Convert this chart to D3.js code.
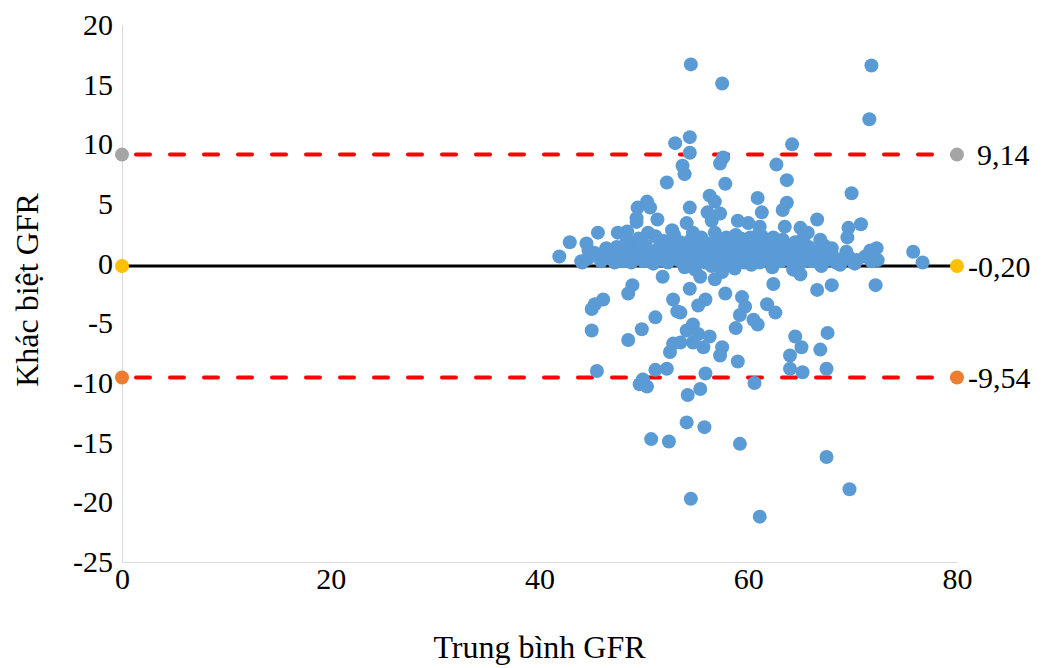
<!DOCTYPE html>
<html>
<head>
<meta charset="utf-8">
<script src="https://cdn.jsdelivr.net/npm/d3@7"></script>
<style>
  body { margin: 0; background: #fff; }
  svg text { font-family: "Liberation Serif", "Times New Roman", serif; fill: #000; }
</style>
</head>
<body>
<svg id="chart" width="1050" height="668"></svg>
<script>
// mean GFR vs. difference, one pair per patient
var outerPoints = [
  [54.5, 16.7], [57.5, 15.1], [71.8, 16.6], [71.6, 12.1], [54.4, 10.6], [53.0, 10.1],
  [64.2, 10.0], [54.4, 9.3], [57.6, 8.9], [57.3, 8.4], [62.7, 8.3], [53.7, 8.2],
  [53.9, 7.5], [52.2, 6.8], [57.8, 6.7], [63.7, 7.0], [69.9, 5.9], [56.3, 5.7],
  [56.8, 5.2], [60.9, 5.5], [54.4, 4.7], [63.7, 5.1], [63.3, 4.5], [56.1, 4.3],
  [57.3, 4.2], [61.3, 4.3], [49.4, 4.7], [50.3, 5.2], [50.6, 4.7], [49.3, 3.8],
  [51.3, 3.7], [59.0, 3.6], [56.5, 3.6], [66.6, 3.7], [60.0, 3.4], [54.1, 3.4],
  [63.5, 3.1], [65.0, 3.0], [61.1, 3.1], [70.8, 3.3], [69.6, 3.0], [45.6, 2.6],
  [48.4, 2.7], [50.4, 2.6], [52.7, 2.8], [56.8, 2.6], [54.7, 2.6], [57.9, 2.2],
  [60.2, 2.2], [62.4, 2.2], [65.7, 2.6], [58.9, 2.0], [69.5, 2.2], [42.9, 1.8],
  [44.5, 1.7], [47.4, 1.4], [68.0, 1.3], [71.7, 1.1], [72.3, 1.3], [75.8, 1.0],
  [72.4, 0.3], [76.7, 0.1], [41.9, 0.6], [67.5, 0.6], [69.7, 0.5], [70.4, 0.3],
  [66.9, 2.0], [44.1, 0.1], [44.7, 1.1], [47.5, 2.6], [48.4, 1.9], [49.3, 3.5]
];

var lowerPoints = [
  [51.8, -1.1], [48.9, -1.8], [48.5, -2.5], [46.1, -3.0], [45.3, -3.4], [45.0, -3.8],
  [52.8, -3.0], [53.2, -4.0], [51.1, -4.5], [49.8, -5.5], [45.0, -5.6], [48.5, -6.4],
  [52.8, -6.7], [52.5, -7.4], [45.5, -9.0], [52.2, -8.8], [51.1, -8.9], [49.9, -9.7],
  [49.6, -10.1], [50.3, -10.3], [55.4, -1.1], [56.8, -1.3], [54.4, -2.1], [57.5, -0.7],
  [62.4, -1.7], [65.0, -0.9], [66.6, -2.2], [57.8, -2.5], [59.4, -2.8], [55.9, -3.0],
  [55.2, -3.5], [59.7, -3.6], [61.8, -3.4], [62.6, -4.1], [53.5, -4.1], [59.2, -4.3],
  [60.5, -4.7], [60.9, -5.1], [58.8, -5.4], [54.7, -5.1], [54.1, -5.6], [55.2, -5.9],
  [56.3, -6.1], [54.7, -6.6], [53.5, -6.6], [55.7, -7.0], [57.5, -7.0], [57.3, -7.7],
  [64.5, -6.1], [65.1, -7.0], [64.0, -7.7], [66.9, -7.2], [59.0, -8.2], [64.0, -8.8],
  [65.2, -9.1], [55.9, -9.2], [60.6, -10.0], [55.4, -10.5], [54.2, -11.0], [54.1, -13.3],
  [55.8, -13.7], [50.7, -14.7], [52.4, -14.9], [59.2, -15.1], [67.5, -16.2], [54.5, -19.7],
  [61.1, -21.2], [69.7, -18.9], [68.0, -1.8], [72.2, -1.8], [67.6, -5.8], [67.5, -8.8],
  [68.8, -0.1], [70.2, 0.0]
];

var bandPoints = [
  [44.6, 0.4], [45.3, 0.9], [45.9, 0.2], [46.4, 1.3], [46.8, 0.5], [47.2, 0.1],
  [47.6, 0.9], [47.9, 0.3], [48.2, 1.6], [48.5, 0.6], [48.8, 0.1], [49.0, 1.2],
  [49.3, 0.4], [49.5, 2.1], [49.8, 0.8], [50.0, 0.2], [50.2, 1.5], [50.5, 0.5],
  [50.7, 1.0], [50.9, 0.0], [51.1, 2.3], [51.3, 0.7], [51.5, 1.4], [51.7, 0.3],
  [51.9, 1.9], [52.1, 0.9], [52.3, 0.1], [52.5, 1.6], [52.7, 0.6], [52.9, 2.4],
  [53.1, 1.1], [53.3, 0.3], [53.5, 1.8], [53.7, 0.7], [53.9, -0.3], [54.1, 1.3],
  [54.3, 0.2], [54.5, 2.0], [54.7, 0.9], [54.9, -0.5], [55.1, 1.5], [55.3, 0.4],
  [55.5, 2.2], [55.7, 1.0], [55.9, 0.1], [56.1, 1.7], [56.3, 0.6], [56.5, -0.2],
  [56.7, 1.2], [56.9, 0.3], [57.1, 2.0], [57.3, 0.8], [57.5, 1.5], [57.7, 0.0],
  [57.9, 1.0], [58.1, 0.4], [58.3, 1.8], [58.5, 0.7], [58.7, -0.4], [58.9, 1.3],
  [59.1, 0.2], [59.3, 2.1], [59.5, 0.9], [59.7, 1.5], [59.9, 0.3], [60.1, 1.1],
  [60.3, -0.1], [60.5, 1.9], [60.7, 0.6], [60.9, 1.3], [61.1, 0.1], [61.3, 2.3],
  [61.5, 0.8], [61.7, 1.6], [61.9, 0.4], [62.1, 1.1], [62.3, -0.3], [62.5, 1.9],
  [62.7, 0.6], [62.9, 1.4], [63.1, 0.2], [63.3, 2.0], [63.5, 0.9], [63.7, 1.5],
  [63.9, 0.3], [64.1, 1.1], [64.3, -0.5], [64.5, 1.8], [64.7, 0.5], [64.9, 1.2],
  [65.1, 0.1], [65.3, 2.2], [65.5, 0.7], [65.8, 1.4], [66.1, 0.2], [66.4, 1.0],
  [66.7, 0.5], [67.0, -0.2], [67.3, 1.5], [67.6, 0.3], [68.0, 0.8], [68.4, 0.1],
  [69.0, 0.4], [69.4, 1.0], [70.0, 0.2], [71.2, 0.6], [71.8, 0.2], [50.3, 0.3],
  [52.0, 0.5], [53.6, 0.2], [55.0, 0.6], [56.0, 0.3], [57.2, 0.1], [58.4, 0.5],
  [59.6, 0.1], [60.8, 0.4], [62.0, 0.7], [63.4, 0.5], [64.6, 0.2], [66.0, 0.6],
  [48.0, 0.2], [46.0, 0.6], [44.0, 0.2], [57.8, 1.3], [60.0, 1.7], [55.4, 1.1],
  [53.2, 1.5], [62.8, 1.0], [58.8, 2.4], [61.0, 2.5]
];

// limits of agreement and mean difference
var limits = [
  { value: 9.14,  label: '9,14',  kind: 'upper', marker: '#a5a5a5' },
  { value: -0.20, label: '-0,20', kind: 'mean',  marker: '#ffc000' },
  { value: -9.54, label: '-9,54', kind: 'lower', marker: '#ed7d31' }
];
var limitEnds = [0, 80];

var xTicks = [0, 20, 40, 60, 80];
var yTicks = [20, 15, 10, 5, 0, -5, -10, -15, -20, -25];

var margin = { top: 25, right: 93, bottom: 106, left: 122 };
var width = 1050, height = 668;

var svg = d3.select('#chart');

var x = d3.scaleLinear().domain([0, 80]).range([margin.left, width - margin.right]);
var y = d3.scaleLinear().domain([-25, 20]).range([height - margin.bottom, margin.top]);

// axes: plain lines, labels only
svg.append('g')
  .attr('transform', 'translate(0,' + y(-25) + ')')
  .call(d3.axisBottom(x).tickValues(xTicks).tickSize(0).tickPadding(6).tickFormat(d3.format('d')))
  .call(function (g) {
    g.select('.domain').attr('stroke', '#d9d9d9');
    g.selectAll('text').style('font-size', '30px').attr('font-family', null);
  });

svg.append('g')
  .attr('transform', 'translate(' + x(0) + ',0)')
  .call(d3.axisLeft(y).tickValues(yTicks).tickSize(0).tickPadding(9).tickFormat(d3.format('d')))
  .call(function (g) {
    g.select('.domain').attr('stroke', '#d9d9d9');
    g.selectAll('text').style('font-size', '30px').attr('font-family', null)
      .text(function (d) { return String(d); });
  });

// reference lines
svg.append('g').selectAll('line')
  .data(limits)
  .join('line')
  .attr('x1', x(limitEnds[0]))
  .attr('x2', x(limitEnds[1]))
  .attr('y1', function (d) { return y(d.value); })
  .attr('y2', function (d) { return y(d.value); })
  .attr('stroke', function (d) { return d.kind === 'mean' ? '#000' : '#ff0000'; })
  .attr('stroke-width', function (d) { return d.kind === 'mean' ? 3 : 4; })
  .attr('stroke-dasharray', function (d) { return d.kind === 'mean' ? null : '14,20'; })
  .attr('stroke-linecap', function (d) { return d.kind === 'mean' ? 'butt' : 'round'; })
  .attr('stroke-dashoffset', -14);

// scatter
var allPoints = bandPoints.concat(outerPoints, lowerPoints);
svg.append('g').selectAll('circle')
  .data(allPoints)
  .join('circle')
  .attr('cx', function (d) { return x(d[0]); })
  .attr('cy', function (d) { return y(d[1]); })
  .attr('r', 7)
  .attr('fill', '#5b9bd5');

// end markers on the reference lines
var ends = [];
limits.forEach(function (l) {
  limitEnds.forEach(function (e) { ends.push({ x: e, l: l }); });
});
svg.append('g').selectAll('circle')
  .data(ends)
  .join('circle')
  .attr('cx', function (d) { return x(d.x); })
  .attr('cy', function (d) { return y(d.l.value); })
  .attr('r', 7)
  .attr('fill', function (d) { return d.l.marker; });

svg.append('g').selectAll('text')
  .data(limits)
  .join('text')
  .attr('x', function (d) { return x(80) + (d.value > 0 ? 20 : 11); })
  .attr('y', function (d) { return y(d.value); })
  .attr('dy', '0.35em')
  .style('font-size', '30px')
  .text(function (d) { return d.label; });

// axis titles
svg.append('text')
  .attr('x', (x(0) + x(80)) / 2)
  .attr('y', 658)
  .attr('text-anchor', 'middle')
  .style('font-size', '32px')
  .text('Trung bình GFR');

svg.append('text')
  .attr('transform', 'translate(38,' + y(-2.2) + ') rotate(-90)')
  .attr('text-anchor', 'middle')
  .style('font-size', '32px')
  .text('Khác biệt GFR');
</script>
</body>
</html>
